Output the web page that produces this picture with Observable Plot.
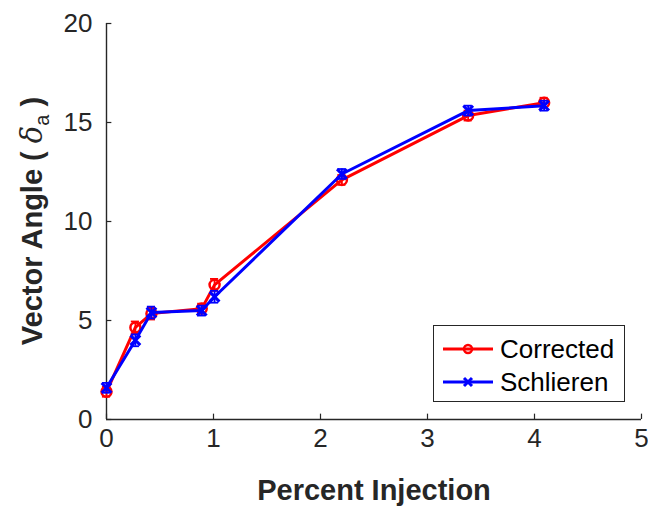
<!DOCTYPE html>
<html>
<head>
<meta charset="utf-8">
<script src="https://cdn.jsdelivr.net/npm/d3@7"></script>
<script src="https://cdn.jsdelivr.net/npm/@observablehq/plot@0.6"></script>
<style>
  html, body { margin: 0; padding: 0; background: #fff; }
  #wrap { position: relative; width: 648px; height: 506px; font-family: "Liberation Sans", Arial, sans-serif; }
  #legend { position: absolute; left: 433px; top: 325px; width: 192px; height: 77px; border: 1.5px solid #262626; background: #fff; box-sizing: border-box; }
  .row { position: absolute; left: 8px; height: 30px; display: flex; align-items: center; font-size: 26px; color: #000; }
  .row svg { margin-right: 6px; }
</style>
</head>
<body>
<div id="wrap"></div>
<script>
// ---- data ----
const injection     = [0, 0.27, 0.42, 0.89, 1.01, 2.2, 3.38, 4.09];
const corrected     = [1.4, 4.65, 5.35, 5.6, 6.8, 12.1, 15.35, 16.0];
const correctedErr  = [0.25, 0.3, 0.3, 0.25, 0.3, 0.25, 0.25, 0.25];
const schlieren     = [1.6, 4.0, 5.4, 5.5, 6.2, 12.4, 15.6, 15.85];
const schlierenErr  = [0.25, 0.3, 0.3, 0.25, 0.3, 0.25, 0.25, 0.25];
const seriesNames   = ["Corrected", "Schlieren"];
const seriesColors  = ["#ff0000", "#0000ff"];
const xTicks = [0, 1, 2, 3, 4, 5];
const yTicks = [0, 5, 10, 15, 20];
const xLabel = "Percent Injection";

const rows = [];
injection.forEach((x, i) => {
  rows.push({series: seriesNames[0], x, y: corrected[i], e: correctedErr[i]});
});
injection.forEach((x, i) => {
  rows.push({series: seriesNames[1], x, y: schlieren[i], e: schlierenErr[i]});
});
const red = rows.filter(d => d.series === seriesNames[0]);
const blue = rows.filter(d => d.series === seriesNames[1]);
const ink = "#262626";
const cap = 0.038;

function seriesMarks(data, color, symbol, r, sw) {
  return [
    Plot.line(data, {x: "x", y: "y", stroke: color, strokeWidth: 3}),
    Plot.ruleX(data, {x: "x", y1: d => d.y - d.e, y2: d => d.y + d.e, stroke: color, strokeWidth: 1.8}),
    Plot.ruleY(data, {y: d => d.y - d.e, x1: d => d.x - cap, x2: d => d.x + cap, stroke: color, strokeWidth: 1.8}),
    Plot.ruleY(data, {y: d => d.y + d.e, x1: d => d.x - cap, x2: d => d.x + cap, stroke: color, strokeWidth: 1.8}),
    Plot.dot(data, {x: "x", y: "y", stroke: color, symbol, r, strokeWidth: sw, fill: "none"})
  ];
}

const chart = Plot.plot({
  width: 648,
  height: 506,
  marginLeft: 106,
  marginRight: 7,
  marginTop: 23,
  marginBottom: 87,
  style: {fontFamily: "'Liberation Sans', Arial, sans-serif", fontSize: "26px", color: ink, background: "#fff", overflow: "visible"},
  x: {domain: [0, 5]},
  y: {domain: [0, 20]},
  marks: [
    Plot.axisX({ticks: xTicks, tickFormat: d3.format("d"), tickSize: 0, tickPadding: 9, label: null, fontSize: 26}),
    Plot.axisY({ticks: yTicks, tickFormat: d3.format("d"), tickSize: 0, tickPadding: 14, label: null, fontSize: 26}),
    Plot.ruleX(xTicks, {y1: 0, y2: 0.27, stroke: ink, strokeWidth: 1.2}),
    Plot.ruleY(yTicks, {x1: 0, x2: 0.05, stroke: ink, strokeWidth: 1.2}),
    Plot.ruleX([0], {stroke: ink, strokeWidth: 1.4}),
    Plot.ruleY([0], {stroke: ink, strokeWidth: 1.4}),
    ...seriesMarks(red, seriesColors[0], "circle", 5, 2.5),
    ...seriesMarks(blue, seriesColors[1], "times", 4.5, 3)
  ]
});

const svg = d3.select(chart);
svg.append("text")
  .attr("x", 374).attr("y", 500)
  .attr("text-anchor", "middle")
  .attr("font-size", 29).attr("font-weight", "bold").attr("fill", ink)
  .text(xLabel);

const yl = svg.append("text")
  .attr("transform", "translate(42,221) rotate(-90)")
  .attr("text-anchor", "middle")
  .attr("font-size", 29).attr("font-weight", "bold").attr("fill", ink);
yl.append("tspan").text("Vector Angle ( ");
yl.append("tspan").attr("font-style", "italic").attr("font-weight", "normal").attr("font-family", "'DejaVu Serif', serif").text("δ");
yl.append("tspan").attr("font-size", 20).attr("font-weight", "normal").attr("dy", 7).text("a");
yl.append("tspan").attr("dy", -7).text(" )");

const wrap = document.getElementById("wrap");
wrap.appendChild(chart);

// legend
const legend = document.createElement("div");
legend.id = "legend";
seriesNames.forEach((name, i) => {
  const row = document.createElement("div");
  row.className = "row";
  row.style.top = (i === 0 ? 8 : 41) + "px";
  const s = d3.create("svg").attr("width", 52).attr("height", 20);
  s.append("line").attr("x1", 1).attr("x2", 51).attr("y1", 10).attr("y2", 10).attr("stroke", seriesColors[i]).attr("stroke-width", 3);
  if (i === 0) {
    s.append("circle").attr("cx", 26).attr("cy", 10).attr("r", 4).attr("fill", "none").attr("stroke", seriesColors[i]).attr("stroke-width", 2.5);
  } else {
    s.append("path").attr("d", "M22,6L30,14M22,14L30,6").attr("stroke", seriesColors[i]).attr("stroke-width", 3);
  }
  row.appendChild(s.node());
  const t = document.createElement("span");
  t.textContent = name;
  row.appendChild(t);
  legend.appendChild(row);
});
wrap.appendChild(legend);
</script>
</body>
</html>
